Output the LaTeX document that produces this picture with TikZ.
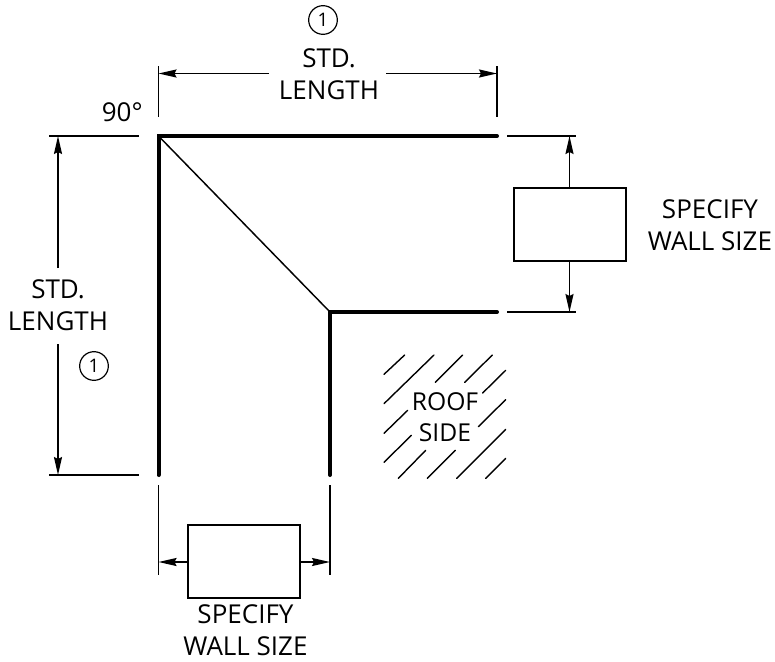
\documentclass[tikz,border=0pt]{standalone}
\usepackage{fontspec}
\setmainfont{Open Sans}
\usetikzlibrary{arrows.meta}
\tikzset{
  px/.style={x=0.75pt,y=-0.75pt},
  wall/.style={line width=3pt,line cap=round},
  thin line/.style={line width=1.1pt},
  dim/.style={line width=1.3pt,-{Stealth[length=13.5pt,width=6pt,inset=1.5pt]}},
  hatch/.style={line width=1.05pt,line cap=round},
  sizebox/.style={draw,line width=1.2pt,minimum width=84pt,minimum height=55pt,inner sep=0pt},
  lbl/.style={font=\fontsize{19.5}{24}\selectfont,align=center,inner sep=0pt},
  num/.style={draw,circle,line width=0.9pt,minimum size=21.5pt,inner sep=0pt,font=\fontsize{14}{14}\selectfont},
}
\begin{document}
\begin{tikzpicture}[px]
\useasboundingbox (0,0) rectangle (775,661);
% wall corners
\coordinate (oc) at (158.5,136);
\coordinate (ic) at (330,312);
\coordinate (t1) at (497,136);
\coordinate (l1) at (158.5,475);
\coordinate (t2) at (497,312);
\coordinate (l2) at (330,475);
\draw[wall] (t1) -- (oc) -- (l1);
\draw[wall] (t2) -- (ic) -- (l2);
\draw[thin line] (oc) -- (ic);
% top dimension
\coordinate (a1) at (158.5,66); \coordinate (a2) at (158.5,117);
\coordinate (a3) at (497,66); \coordinate (a4) at (497,117);
\draw[thin line] (a1) -- (a2);
\draw[thin line] (a3) -- (a4);
\coordinate (a5) at (158.5,73.5); \coordinate (a6) at (497,73.5);
\coordinate (a7) at (269,73.5); \coordinate (a8) at (386,73.5);
\draw[dim] (a7) -- (a5);
\draw[dim] (a8) -- (a6);
\node[num] (n1) at (323,20) {1};
\node[lbl] (t) at (329,74.5) {STD.\\LENGTH};
\node[lbl,anchor=east] (ang) at (143,112.5) {90°};
% left dimension
\coordinate (b1) at (49,136); \coordinate (b2) at (139,136);
\coordinate (b3) at (49,475); \coordinate (b4) at (139,475);
\draw[thin line] (b1) -- (b2);
\draw[thin line] (b3) -- (b4);
\coordinate (b5) at (58,136); \coordinate (b6) at (58,475);
\coordinate (b7) at (58,268); \coordinate (b8) at (58,344);
\draw[dim] (b7) -- (b5);
\draw[dim] (b8) -- (b6);
\node[lbl] (l) at (58,305.5) {STD.\\LENGTH};
\node[num] (n2) at (94,366) {1};
% right dimension
\coordinate (c1) at (507,136); \coordinate (c2) at (576,136);
\coordinate (c3) at (507,312); \coordinate (c4) at (576,312);
\draw[thin line] (c1) -- (c2);
\draw[thin line] (c3) -- (c4);
\node[sizebox] (rb) at (570,224.5) {};
\coordinate (c5) at (569.5,136); \coordinate (c6) at (569.5,312);
\draw[dim] (rb.north -| c5) -- (c5);
\draw[dim] (rb.south -| c6) -- (c6);
\node[lbl] (rl) at (710,225) {SPECIFY\\WALL SIZE};
% bottom dimension
\coordinate (d1) at (158.5,485); \coordinate (d2) at (158.5,575);
\coordinate (d3) at (330,485); \coordinate (d4) at (330,575);
\draw[thin line] (d1) -- (d2);
\draw[thin line] (d3) -- (d4);
\node[sizebox] (bb) at (244,561.5) {};
\coordinate (d5) at (158.5,562); \coordinate (d6) at (330,562);
\draw[dim] (bb.west |- d5) -- (d5);
\draw[dim] (bb.east |- d6) -- (d6);
\node[lbl] (bl) at (245.5,630.5) {SPECIFY\\WALL SIZE};
% roof hatch
\begin{scope}[shift={(340,320)},x=0.25pt,y=-0.25pt]
\foreach \a/\b/\c/\d in {132/163/194/105,132/251/282/105,132/340/203/271,132/427/214/346,
  175/475/257/391,262/475/346/391,350/475/497/328,437/475/497/415,415/320/497/239,
  428/219/497/151,374/187/457/105,286/187/368/105}
  \draw[hatch] (\a,\b) -- (\c,\d);
\end{scope}
\node[lbl,font=\fontsize{18.5}{23.5}\selectfont] (roof) at (445,417) {ROOF\\SIDE};
\end{tikzpicture}
\end{document}
